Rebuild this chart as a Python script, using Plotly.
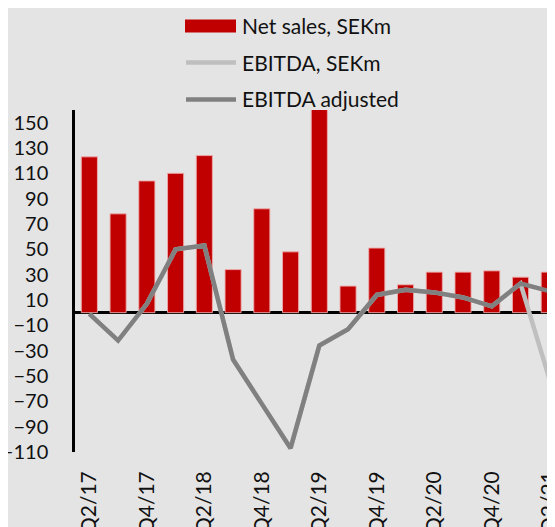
import plotly.graph_objects as go

quarters = ["Q2/17", "Q3/17", "Q4/17", "Q1/18", "Q2/18", "Q3/18", "Q4/18", "Q1/19",
            "Q2/19", "Q3/19", "Q4/19", "Q1/20", "Q2/20", "Q3/20", "Q4/20", "Q1/21", "Q2/21"]
net_sales = [123, 78, 104, 110, 124, 34, 82, 48, 165, 21, 51, 22, 32, 32, 33, 28, 32]
ebitda = [-1, -22, 7, 50, 53, -37, -72, -107, -26, -13, 14, 18, 16, 12, 5, 23, -52]
ebitda_adj = [-1, -22, 7, 50, 53, -37, -72, -107, -26, -13, 14, 18, 16, 12, 5, 23, 17]
y_ticks = list(range(-110, 151, 20))
legend_labels = ["Net sales, SEKm", "EBITDA, SEKm", "EBITDA adjusted"]

BG = "#E4E4E4"
RED = "#C00000"
LIGHT = "#BFBFBF"
DARK = "#808080"
FONT = "Lato"

# page body has an 8px margin, so figure coordinates = screen coordinates - 8
OFF = 8
W, H = 555 - OFF, 527 - OFF
ML, MT = 75 - OFF, 110 - OFF
PB = 452 - OFF
MB = H - PB
MR = 0
PW = W - ML - MR
PH = H - MT - MB

fig = go.Figure()
fig.add_trace(go.Bar(x=quarters, y=net_sales, name=legend_labels[0],
                     marker=dict(color=RED, line=dict(color="rgba(240,170,170,0.9)", width=1)),
                     width=0.56, showlegend=False))
fig.add_trace(go.Scatter(x=quarters, y=ebitda, name=legend_labels[1], mode="lines",
                         line=dict(color=LIGHT, width=4.5), showlegend=False))
fig.add_trace(go.Scatter(x=quarters, y=ebitda_adj, name=legend_labels[2], mode="lines",
                         line=dict(color=DARK, width=4.5), showlegend=False))

def px_x(x):
    return (x - OFF - ML) / PW

def px_y(y):
    return (PB - (y - OFF)) / PH

# manual legend (screen pixel positions)
shapes = [
    dict(type="rect", xref="paper", yref="paper", x0=px_x(185), x1=px_x(236),
         y0=px_y(32.5), y1=px_y(19.5), fillcolor=RED, line=dict(width=0)),
    dict(type="line", xref="paper", yref="paper", x0=px_x(186), x1=px_x(236),
         y0=px_y(62.5), y1=px_y(62.5), line=dict(color=LIGHT, width=4.5)),
    dict(type="line", xref="paper", yref="paper", x0=px_x(186), x1=px_x(236),
         y0=px_y(99.5), y1=px_y(99.5), line=dict(color=DARK, width=4.5)),
]
annotations = []
for lbl, yy in zip(legend_labels, [25, 62, 99]):
    annotations.append(dict(text=lbl, xref="paper", yref="paper", x=px_x(240), y=px_y(yy),
                            xanchor="left", yanchor="middle", showarrow=False,
                            font=dict(family=FONT, size=21, color="#111111")))

fig.update_layout(
    width=W, height=H,
    margin=dict(l=ML, r=MR, t=MT, b=MB, autoexpand=False),
    paper_bgcolor=BG, plot_bgcolor=BG,
    font=dict(family=FONT, size=20, color="#111111"),
    showlegend=False,
    bargap=0.44,
    shapes=shapes,
    annotations=annotations,
    xaxis=dict(type="category", range=[-0.5, 16.2], showgrid=False, showline=False,
               zeroline=False, tickmode="array", tickvals=quarters[::2], ticktext=quarters[::2],
               tickangle=-90, ticks="", ticklabelstandoff=14, automargin=False,
               tickfont=dict(family=FONT, size=21)),
    yaxis=dict(range=[-110, 160], tickmode="array", tickvals=y_ticks, showgrid=False,
               showline=True, linecolor="black", linewidth=2.5, ticks="",
               zeroline=True, zerolinecolor="black", zerolinewidth=2.5,
               ticklabelstandoff=20, automargin=False,
               tickfont=dict(family=FONT, size=20)),
)

fig.write_html("out.html")
